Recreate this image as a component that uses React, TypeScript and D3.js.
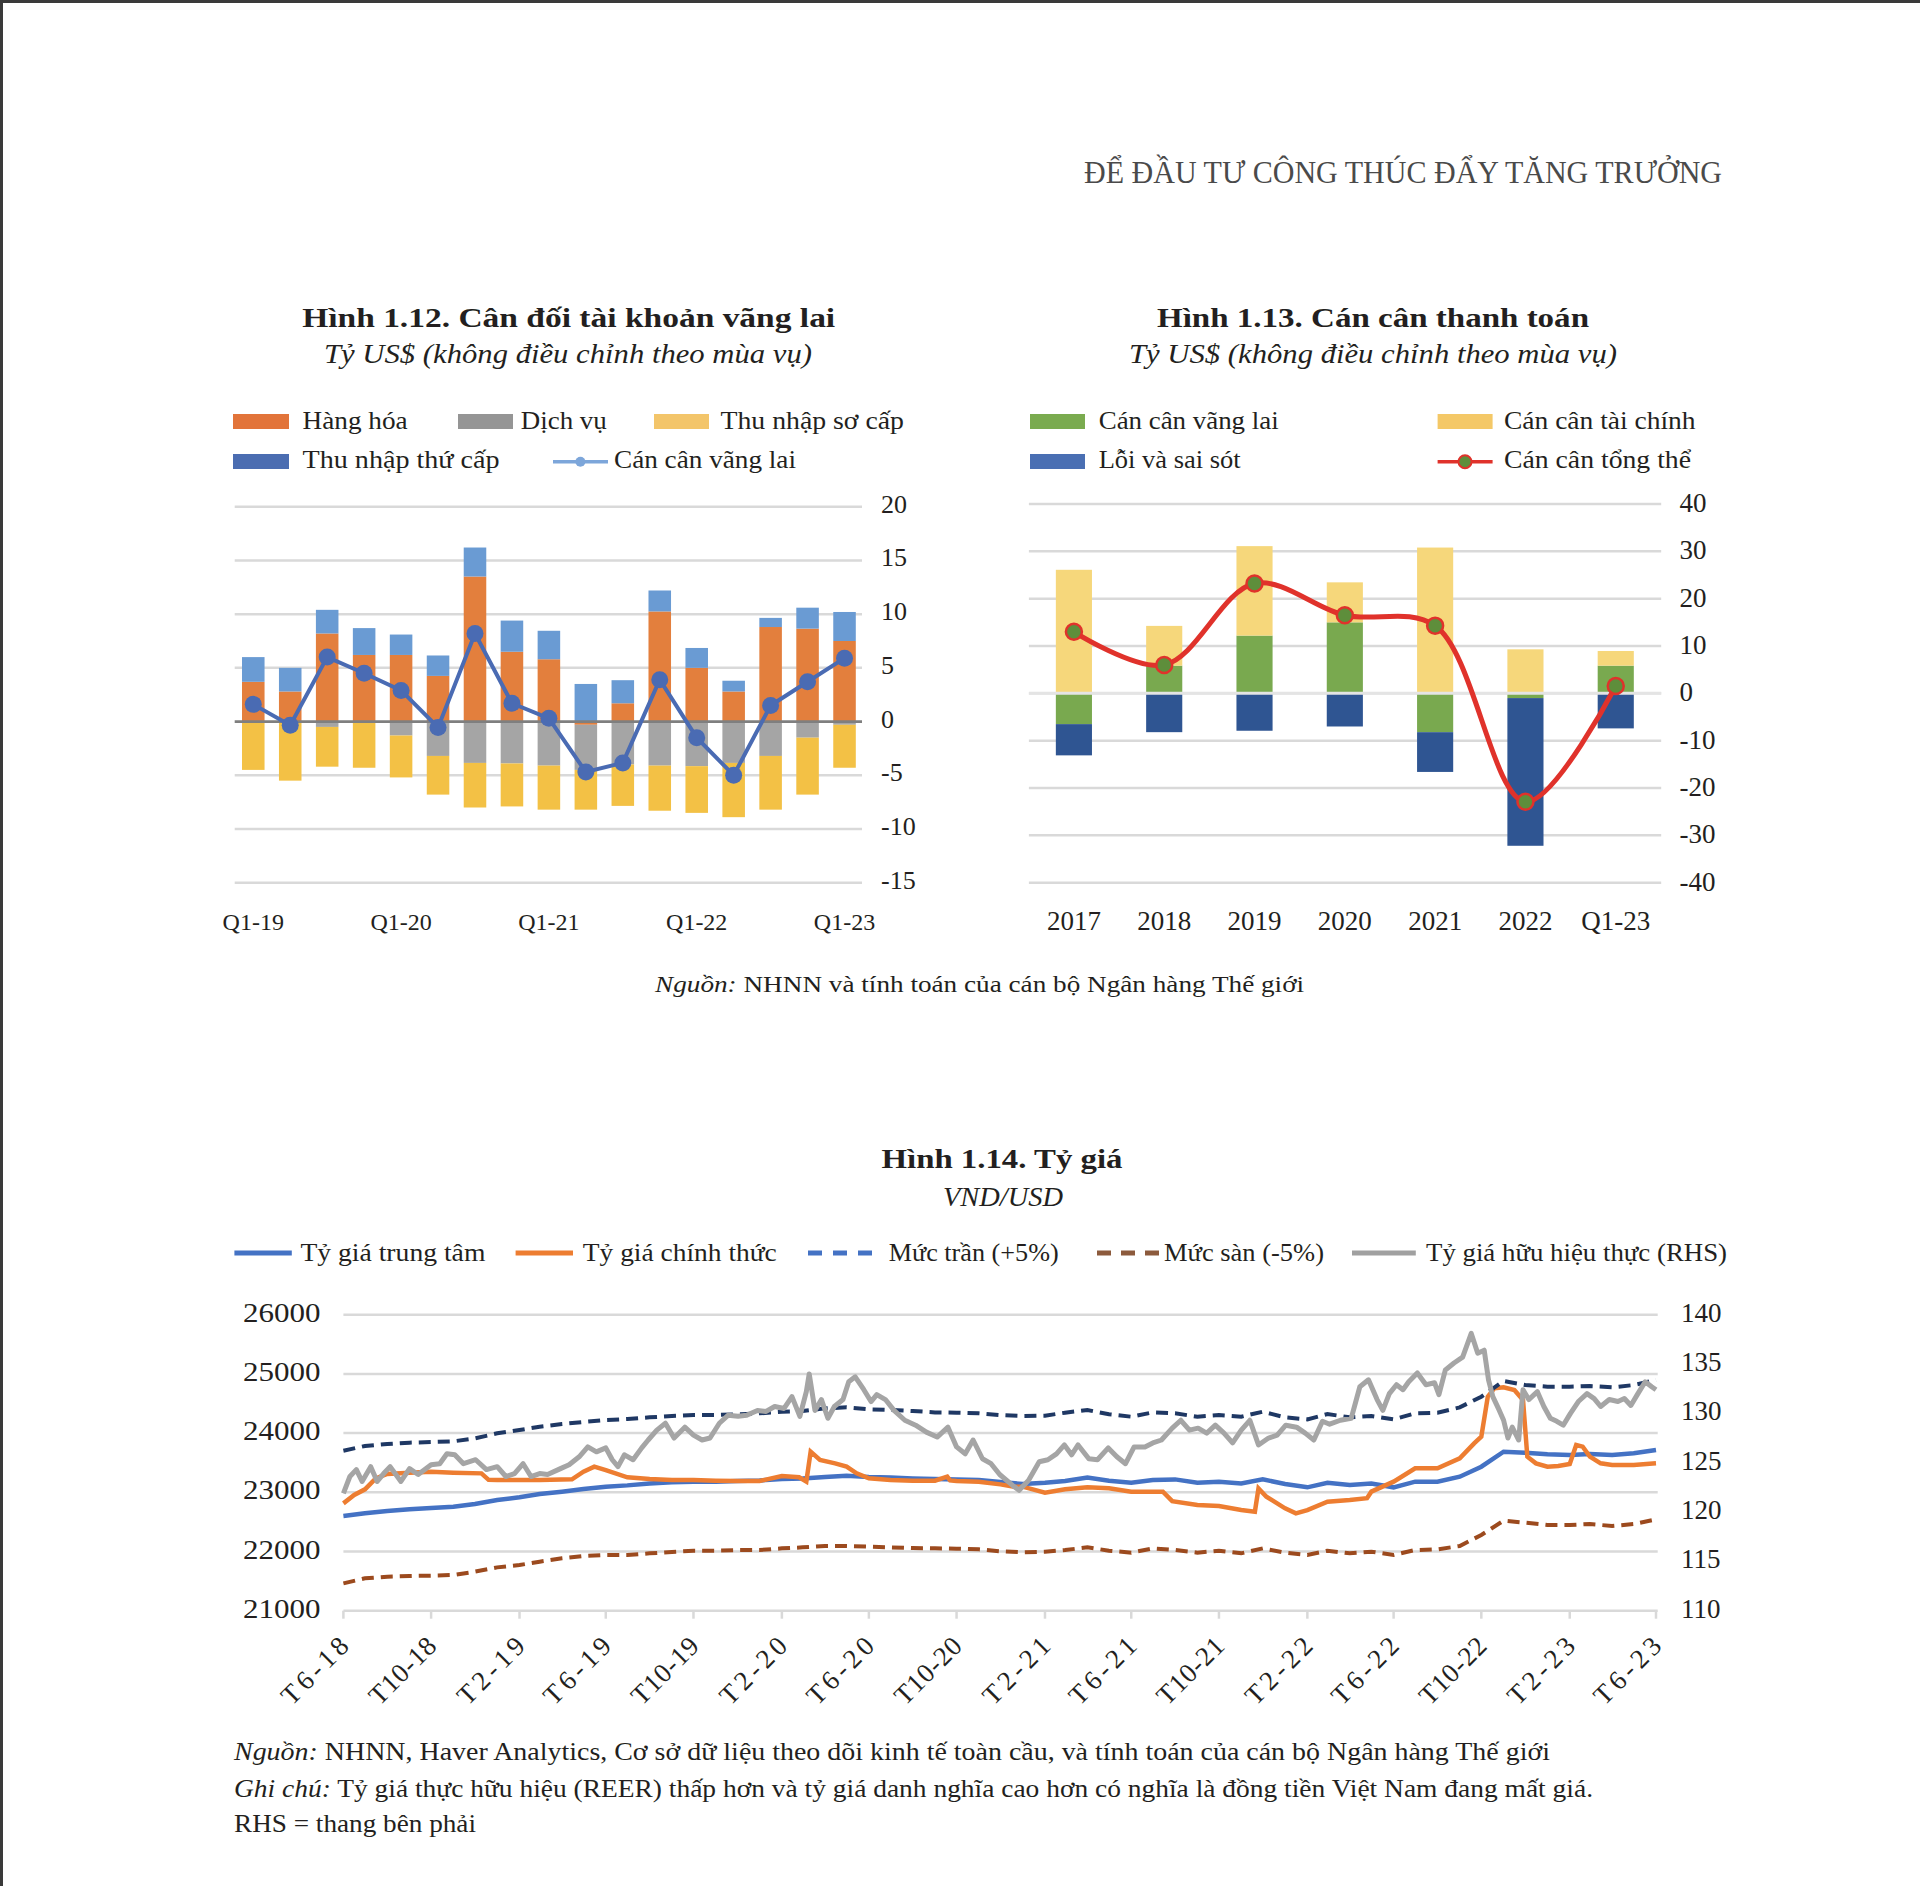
import React from "react";
import * as d3 from "d3";

const FONT = "'Liberation Serif', 'Times New Roman', serif";
const INK = "#231f20";

// ---------- Chart 1.12 data ----------
const cat1 = ["Q1-19","Q2-19","Q3-19","Q4-19","Q1-20","Q2-20","Q3-20","Q4-20","Q1-21","Q2-21","Q3-21","Q4-21","Q1-22","Q2-22","Q3-22","Q4-22","Q1-23"];
const goods =     [3.7, 2.8, 8.2, 6.2, 6.2, 4.25, 13.5, 6.5, 5.8, -0.3, 1.7, 10.25, 5.0, 2.8, 8.8, 8.65, 7.5];
const services =  [-0.1, -0.1, -0.5, -0.1, -1.3, -3.2, -3.85, -3.9, -4.1, -4.2, -4.0, -4.1, -4.15, -3.85, -3.2, -1.5, -0.3];
const primary =   [-4.4, -5.4, -3.7, -4.2, -3.9, -3.6, -4.15, -4.0, -4.1, -3.7, -3.85, -4.2, -4.35, -5.05, -5.0, -5.3, -4.0];
const secondary = [2.3, 2.2, 2.2, 2.5, 1.9, 1.9, 2.7, 2.9, 2.65, 3.5, 2.15, 1.95, 1.85, 1.0, 0.85, 1.95, 2.7];
const caLine =    [1.6, -0.35, 6.0, 4.5, 2.9, -0.55, 8.2, 1.7, 0.3, -4.7, -3.85, 3.9, -1.5, -5.0, 1.5, 3.7, 5.9];
const ticks1 = [-15, -10, -5, 0, 5, 10, 15, 20];
const xLabels1 = ["Q1-19","Q1-20","Q1-21","Q1-22","Q1-23"];

// ---------- Chart 1.13 data ----------
const cat2 = ["2017","2018","2019","2020","2021","2022","Q1-23"];
const ca2 =      [-6.5, 5.85, 12.2, 15.0, -8.2, -1.0, 5.85];
const fa2 =      [26.1, 8.4, 18.9, 8.45, 30.8, 9.3, 3.1];
const eo2 =      [-6.6, -8.2, -7.9, -7.0, -8.4, -31.2, -7.4];
const overall2 = [13.0, 6.0, 23.2, 16.5, 14.3, -22.9, 1.55];
const ticks2 = [-40, -30, -20, -10, 0, 10, 20, 30, 40];

// ---------- Chart 1.14 data ----------
const centralRate = [22600,22645,22684,22712,22735,22757,22802,22870,22915,22970,23010,23055,23095,23117,23150,23168,23180,23180,23190,23200,23224,23235,23260,23280,23260,23250,23235,23224,23218,23207,
  23175,23140,23162,23190,23250,23196,23162,23207,23218,23162,23180,23150,23218,23140,23084,23162,23123,23150,23084,23180,23180,23264,23433,23686,23669,23641,23630,23647,23630,23658,23714];
const ceilingRate = [23703,23782,23816,23838,23849,23861,23911,23996,24052,24108,24153,24187,24221,24238,24266,24289,24305,24305,24317,24334,24362,24373,24418,24435,24401,24390,24373,24350,24345,24334,
  24305,24289,24294,24345,24390,24317,24277,24350,24334,24277,24305,24277,24362,24266,24232,24322,24266,24289,24232,24334,24345,24435,24615,24880,24812,24784,24784,24795,24773,24812,24897];
const floorRate = [21462,21547,21575,21586,21592,21603,21659,21732,21772,21828,21885,21924,21941,21941,21969,21991,22014,22014,22025,22025,22053,22070,22093,22093,22082,22070,22059,22053,22048,22036,
  22003,21986,21997,22025,22070,22014,21980,22053,22025,21980,22014,21969,22053,21980,21941,22014,21969,21997,21941,22025,22036,22093,22279,22521,22487,22448,22448,22464,22431,22464,22543];
const officialRate: [string, number][] = [
  ["2018-06-01",22813],["2018-06-16",22954],["2018-07-01",23050],["2018-07-16",23236],["2018-08-01",23309],["2018-09-01",23331],["2018-10-01",23348],["2018-11-01",23331],["2018-12-10",23320],["2018-12-20",23210],
  ["2019-01-01",23207],["2019-02-01",23207],["2019-03-01",23207],["2019-04-15",23220],["2019-05-01",23348],["2019-05-16",23433],["2019-06-01",23376],["2019-07-01",23253],["2019-08-01",23224],["2019-09-01",23207],
  ["2019-10-01",23207],["2019-11-01",23196],["2019-12-01",23190],["2020-01-01",23190],["2020-02-01",23275],["2020-02-25",23253],["2020-03-06",23180],["2020-03-12",23686],["2020-03-25",23545],["2020-04-15",23489],
  ["2020-05-01",23433],["2020-05-15",23320],["2020-06-01",23236],["2020-07-01",23207],["2020-08-01",23196],["2020-09-01",23196],["2020-09-18",23264],["2020-09-22",23200],["2020-10-01",23190],["2020-11-01",23180],
  ["2020-12-01",23134],["2020-12-20",23095],["2021-01-01",23095],["2021-01-15",23050],["2021-02-01",22994],["2021-03-01",23050],["2021-04-01",23084],["2021-05-01",23067],["2021-06-01",23011],["2021-07-15",23011],
  ["2021-07-28",22850],["2021-09-01",22785],["2021-10-01",22768],["2021-11-01",22700],["2021-11-20",22673],["2021-11-25",23067],["2021-12-06",22926],["2022-01-01",22729],["2022-01-16",22645],["2022-02-01",22700],
  ["2022-03-01",22842],["2022-04-01",22870],["2022-04-25",22900],["2022-05-01",23011],["2022-06-01",23180],["2022-07-01",23405],["2022-08-01",23405],["2022-09-01",23574],["2022-09-21",23827],["2022-10-01",23939],
  ["2022-10-10",24615],["2022-10-19",24756],["2022-11-01",24773],["2022-11-16",24728],["2022-11-28",24559],["2022-12-04",23602],["2022-12-16",23489],["2023-01-01",23433],["2023-01-16",23444],["2023-02-01",23478],
  ["2023-02-10",23799],["2023-02-19",23771],["2023-03-01",23602],["2023-03-16",23489],["2023-04-01",23461],["2023-05-01",23461],["2023-06-01",23489]
];
const reer: [string, number][] = [
  ["2018-06-01",121.9],["2018-06-10",123.6],["2018-06-19",124.3],["2018-06-27",123.1],["2018-07-09",124.6],["2018-07-18",123.1],["2018-07-27",123.9],["2018-08-05",124.6],["2018-08-20",123.1],["2018-09-01",124.4],
  ["2018-09-13",123.8],["2018-10-01",124.8],["2018-10-13",124.9],["2018-10-23",125.9],["2018-11-03",125.8],["2018-11-15",124.9],["2018-12-02",125.3],["2018-12-17",124.3],["2019-01-01",124.6],["2019-01-13",123.6],
  ["2019-01-25",123.9],["2019-02-06",124.9],["2019-02-17",123.6],["2019-03-01",123.9],["2019-03-12",123.8],["2019-03-30",124.4],["2019-04-11",124.8],["2019-04-25",125.6],["2019-05-07",126.6],["2019-05-19",126.1],
  ["2019-06-01",126.5],["2019-06-10",125.3],["2019-06-18",124.6],["2019-06-27",125.8],["2019-07-09",125.3],["2019-07-21",126.5],["2019-07-30",127.3],["2019-08-11",128.3],["2019-08-23",129.0],["2019-09-04",127.5],
  ["2019-09-19",128.6],["2019-10-01",127.8],["2019-10-13",127.3],["2019-10-24",127.5],["2019-11-06",129.0],["2019-11-18",129.8],["2019-12-02",129.7],["2019-12-14",129.8],["2019-12-29",130.3],["2020-01-10",130.2],
  ["2020-01-22",130.7],["2020-02-04",130.5],["2020-02-15",131.7],["2020-02-26",129.7],["2020-03-06",132.2],["2020-03-10",134.0],["2020-03-18",130.3],["2020-03-27",131.4],["2020-04-05",129.5],["2020-04-14",130.7],
  ["2020-04-26",131.4],["2020-05-04",133.2],["2020-05-13",133.7],["2020-05-25",132.4],["2020-06-04",131.2],["2020-06-12",131.9],["2020-06-24",131.4],["2020-07-06",130.3],["2020-07-21",129.3],["2020-08-05",128.8],
  ["2020-08-20",128.1],["2020-09-04",127.6],["2020-09-19",128.6],["2020-10-01",126.6],["2020-10-13",125.9],["2020-10-24",127.3],["2020-11-06",125.4],["2020-11-18",124.9],["2020-11-30",123.8],["2020-12-18",122.7],
  ["2020-12-27",122.2],["2021-01-09",123.2],["2021-01-24",125.1],["2021-02-05",125.3],["2021-02-17",125.9],["2021-02-28",126.8],["2021-03-10",125.8],["2021-03-19",126.8],["2021-04-03",125.4],["2021-04-15",125.3],
  ["2021-04-30",126.5],["2021-05-12",125.6],["2021-05-24",124.9],["2021-06-05",126.6],["2021-06-20",126.6],["2021-07-01",127.0],["2021-07-13",127.3],["2021-07-28",128.5],["2021-08-09",129.3],["2021-08-21",128.3],
  ["2021-09-02",128.5],["2021-09-14",128.0],["2021-09-26",128.8],["2021-10-08",128.0],["2021-10-20",127.0],["2021-11-01",128.3],["2021-11-13",129.3],["2021-11-25",126.8],["2021-12-09",127.5],["2021-12-21",127.8],
  ["2022-01-02",128.8],["2022-01-17",128.6],["2022-01-29",128.0],["2022-02-10",127.3],["2022-02-22",129.2],["2022-03-04",128.9],["2022-03-19",129.3],["2022-04-03",129.5],["2022-04-15",132.7],["2022-04-27",133.4],
  ["2022-05-09",131.4],["2022-05-17",130.3],["2022-05-26",132.0],["2022-06-05",132.9],["2022-06-14",132.4],["2022-06-22",133.2],["2022-07-04",134.1],["2022-07-16",132.9],["2022-07-28",133.1],["2022-08-03",131.9],
  ["2022-08-12",134.4],["2022-08-24",135.1],["2022-09-05",135.7],["2022-09-17",138.1],["2022-09-26",136.1],["2022-10-05",136.4],["2022-10-11",133.4],["2022-10-17",131.7],["2022-10-26",130.3],["2022-11-01",129.3],
  ["2022-11-07",127.5],["2022-11-13",128.6],["2022-11-22",127.3],["2022-11-28",132.4],["2022-12-06",131.4],["2022-12-18",132.2],["2022-12-27",130.7],["2023-01-05",129.5],["2023-01-14",129.2],["2023-01-23",128.8],
  ["2023-02-02",130.0],["2023-02-13",131.2],["2023-02-25",132.0],["2023-03-07",131.5],["2023-03-16",130.7],["2023-03-28",131.4],["2023-04-09",131.2],["2023-04-18",131.5],["2023-04-27",130.8],["2023-05-06",131.9],
  ["2023-05-17",133.2],["2023-05-26",132.7],["2023-06-01",132.4]
];
const ticks3L = [21000, 22000, 23000, 24000, 25000, 26000];
const ticks3R = [110, 115, 120, 125, 130, 135, 140];

const parse = d3.timeParse("%Y-%m-%d");

function T(props: any) {
  const { x, y, size = 25, anchor = "start", weight = "normal", italic = false, fill = INK, len, adjust = "spacingAndGlyphs", children, ...rest } = props;
  return (
    <text x={x} y={y} fontSize={size} textAnchor={anchor} fontWeight={weight} fontStyle={italic ? "italic" : "normal"}
      fill={fill} fontFamily={FONT} textLength={len} lengthAdjust={len ? adjust : undefined} {...rest}>{children}</text>
  );
}

function Chart1() {
  const x = d3.scaleBand<string>().domain(cat1).range([234.8, 863]).paddingInner(0.39).paddingOuter(0.195);
  const y = d3.scaleLinear().domain([-15, 20]).range([882.7, 506.7]);
  const rows = cat1.map((c, i) => ({ c, goods: goods[i], services: services[i], primary: primary[i], secondary: secondary[i] }));
  const keys = ["goods", "services", "primary", "secondary"];
  const colors: Record<string, string> = { goods: "#E37F3D", services: "#A5A5A5", primary: "#F3C145", secondary: "#6A9BD3" };
  const stacked = d3.stack<any>().keys(keys).offset(d3.stackOffsetDiverging)(rows);
  const cx = (c: string) => (x(c) as number) + x.bandwidth() / 2;
  const line = d3.line<number>().x((_, i) => cx(cat1[i])).y(v => y(v));
  return (
    <g>
      {ticks1.filter(t => t !== 0).map(t => (
        <line key={t} x1={234.7} x2={862} y1={y(t)} y2={y(t)} stroke="#D9D9D9" strokeWidth={2.5} />
      ))}
      {stacked.map(s => (
        <g key={s.key} fill={colors[s.key]}>
          {s.map((d, i) => (
            <rect key={i} x={x(cat1[i])} width={x.bandwidth()} y={y(Math.max(d[0], d[1]))} height={Math.abs(y(d[0]) - y(d[1]))} />
          ))}
        </g>
      ))}
      <line x1={234.7} x2={862} y1={y(0)} y2={y(0)} stroke="#7F7F7F" strokeWidth={2.8} />
      <path d={line(caLine) || ""} fill="none" stroke="#4A6BB3" strokeWidth={4} />
      {caLine.map((v, i) => <circle key={i} cx={cx(cat1[i])} cy={y(v)} r={8.5} fill="#4A6BB3" />)}
      {ticks1.map(t => <T key={t} x={881} y={y(t) + 6} size={26}>{t}</T>)}
      {xLabels1.map(c => <T key={c} x={cx(c)} y={930} anchor="middle" size={24}>{c}</T>)}
      {/* legend */}
      <rect x={233} y={414} width={56} height={15} fill="#E2743A" />
      <T x={302.6} y={428.5} len={105}>Hàng hóa</T>
      <rect x={458} y={414} width={55} height={15} fill="#959595" />
      <T x={520.8} y={428.5} len={86}>Dịch vụ</T>
      <rect x={654} y={414} width={55} height={15} fill="#F3C56A" />
      <T x={720.5} y={428.5} len={183.5}>Thu nhập sơ cấp</T>
      <rect x={233} y={454} width={56} height={15} fill="#4B6DB1" />
      <T x={302.6} y={468} len={197}>Thu nhập thứ cấp</T>
      <line x1={553} x2={608} y1={461.7} y2={461.7} stroke="#7DA6DA" strokeWidth={3.5} />
      <circle cx={580.4} cy={461.7} r={5} fill="#7DA6DA" />
      <T x={614} y={468} len={182}>Cán cân vãng lai</T>
    </g>
  );
}

function Chart2() {
  const x = d3.scaleBand<string>().domain(cat2).range([1028.75, 1660.9]).paddingInner(0.6).paddingOuter(0.3);
  const y = d3.scaleLinear().domain([-40, 40]).range([882.7, 504]);
  const rows = cat2.map((c, i) => ({ c, ca: ca2[i], fa: fa2[i], eo: eo2[i] }));
  const keys = ["ca", "fa", "eo"];
  const colors: Record<string, string> = { ca: "#79A94F", fa: "#F6D77B", eo: "#2F5592" };
  const stacked = d3.stack<any>().keys(keys).offset(d3.stackOffsetDiverging)(rows);
  const cx = (c: string) => (x(c) as number) + x.bandwidth() / 2;
  const line = d3.line<number>().x((_, i) => cx(cat2[i])).y(v => y(v)).curve(d3.curveCatmullRom.alpha(0.5));
  return (
    <g>
      {ticks2.map(t => (
        <line key={t} x1={1028.9} x2={1661.2} y1={y(t)} y2={y(t)} stroke="#D9D9D9" strokeWidth={2.5} />
      ))}
      {stacked.map(s => (
        <g key={s.key} fill={colors[s.key]}>
          {s.map((d, i) => (
            <rect key={i} x={x(cat2[i])} width={x.bandwidth()} y={y(Math.max(d[0], d[1]))} height={Math.abs(y(d[0]) - y(d[1]))} />
          ))}
        </g>
      ))}
      <line x1={1028.9} x2={1661.2} y1={y(0)} y2={y(0)} stroke="#E4E4E4" strokeWidth={3} />
      <path d={line(overall2) || ""} fill="none" stroke="#E0322B" strokeWidth={5} />
      {overall2.map((v, i) => <circle key={i} cx={cx(cat2[i])} cy={y(v)} r={8} fill="#5E8E3B" stroke="#E0322B" strokeWidth={2.5} />)}
      {ticks2.map(t => <T key={t} x={1679.5} y={y(t) + 8} size={27}>{t}</T>)}
      {cat2.map(c => <T key={c} x={cx(c)} y={930} anchor="middle" size={27}>{c}</T>)}
      {/* legend */}
      <rect x={1030} y={414} width={55} height={15} fill="#7AAB4F" />
      <T x={1098.7} y={428.5} len={180}>Cán cân vãng lai</T>
      <rect x={1437.6} y={414} width={55} height={15} fill="#F4C867" />
      <T x={1504} y={428.5} len={191.6}>Cán cân tài chính</T>
      <rect x={1030} y={454} width={55} height={15} fill="#4A6FB3" />
      <T x={1098.7} y={468} len={142}>Lỗi và sai sót</T>
      <line x1={1437.6} x2={1492.6} y1={461.7} y2={461.7} stroke="#E0322B" strokeWidth={3.5} />
      <circle cx={1465} cy={461.7} r={6.5} fill="#5E8E3B" stroke="#E0322B" strokeWidth={2} />
      <T x={1504} y={468} len={187}>Cán cân tổng thể</T>
    </g>
  );
}

function Chart3() {
  const start = parse("2018-06-01") as Date;
  const end = parse("2023-06-01") as Date;
  const x = d3.scaleTime().domain([start, end]).range([343.4, 1656]);
  const yL = d3.scaleLinear().domain([21000, 26000]).range([1610.7, 1314.7]);
  const yR = d3.scaleLinear().domain([110, 140]).range([1610.7, 1314.7]);
  const months = d3.timeMonth.range(start, d3.timeMonth.offset(end, 1));
  const monthly = (arr: number[]) => arr.map((v, i) => [months[i], v] as [Date, number]);
  const lineL = d3.line<[Date, number]>().x(d => x(d[0])).y(d => yL(d[1]));
  const lineR = d3.line<[Date, number]>().x(d => x(d[0])).y(d => yR(d[1]));
  const pairs = (arr: [string, number][]) => arr.map(d => [parse(d[0]) as Date, d[1]] as [Date, number]);
  const tickDates = d3.timeMonth.range(start, d3.timeMonth.offset(end, 1), 4);
  const fmt = (d: Date) => `T${d.getMonth() + 1}-${d3.timeFormat("%y")(d)}`;
  const axisY = yL(21000);
  return (
    <g>
      {ticks3L.map(t => (
        <line key={t} x1={343.4} x2={1657.7} y1={yL(t)} y2={yL(t)} stroke="#D9D9D9" strokeWidth={2.5} />
      ))}
      {tickDates.map((d, i) => (
        <line key={i} x1={x(d)} x2={x(d)} y1={axisY} y2={axisY + 8} stroke="#D9D9D9" strokeWidth={2.5} />
      ))}
      <path d={lineL(monthly(centralRate)) || ""} fill="none" stroke="#4472C4" strokeWidth={4.5} />
      <path d={lineL(pairs(officialRate)) || ""} fill="none" stroke="#ED7D31" strokeWidth={4.5} />
      <path d={lineL(monthly(ceilingRate)) || ""} fill="none" stroke="#1F3864" strokeWidth={4} strokeDasharray="12 7" />
      <path d={lineL(monthly(floorRate)) || ""} fill="none" stroke="#9C4A1E" strokeWidth={4} strokeDasharray="12 7" />
      <path d={lineR(pairs(reer)) || ""} fill="none" stroke="#A5A5A5" strokeWidth={5} strokeLinejoin="round" />
      {ticks3L.map(t => <T key={t} x={320.5} y={yL(t) + 7} anchor="end" size={27} len={77.5}>{t}</T>)}
      {ticks3R.map(t => <T key={t} x={1681} y={yR(t) + 7} size={27}>{t}</T>)}
      {tickDates.map((d, i) => (
        <T key={i} size={27} anchor="end" len={83} adjust="spacing"
          transform={`translate(${x(d) + 7},${axisY + 37}) rotate(-45)`} x={0} y={0}>{fmt(d)}</T>
      ))}
      {/* legend */}
      <line x1={234.4} x2={291.8} y1={1253} y2={1253} stroke="#4472C4" strokeWidth={5} />
      <T x={300.4} y={1261} len={185}>Tỷ giá trung tâm</T>
      <line x1={515.6} x2={573} y1={1253} y2={1253} stroke="#ED7D31" strokeWidth={5} />
      <T x={582.8} y={1261} len={194}>Tỷ giá chính thức</T>
      <line x1={808} x2={874.4} y1={1253} y2={1253} stroke="#4472C4" strokeWidth={5} strokeDasharray="14 11" />
      <T x={888.7} y={1261} len={170}>Mức trần (+5%)</T>
      <line x1={1097} x2={1160.7} y1={1253} y2={1253} stroke="#8C5A3C" strokeWidth={5} strokeDasharray="14 10" />
      <T x={1164} y={1261} len={160}>Mức sàn (-5%)</T>
      <line x1={1352} x2={1415.8} y1={1253} y2={1253} stroke="#A0A0A0" strokeWidth={5} />
      <T x={1426} y={1261} len={301}>Tỷ giá hữu hiệu thực (RHS)</T>
    </g>
  );
}

export default function App() {
  return (
    <svg width={1920} height={1886} viewBox="0 0 1920 1886" style={{ position: "absolute", left: 0, top: 0 }} fontFamily={FONT}>
      <rect x={0} y={0} width={1920} height={1886} fill="#ffffff" />
      <line x1={0} x2={1920} y1={1.5} y2={1.5} stroke="#3a3a3a" strokeWidth={3} />
      <line x1={1.5} x2={1.5} y1={0} y2={1886} stroke="#3a3a3a" strokeWidth={3} />

      <T x={1084} y={182.5} size={32} fill="#4a4a4a" len={638}>ĐỂ ĐẦU TƯ CÔNG THÚC ĐẨY TĂNG TRƯỞNG</T>

      <T x={568.7} y={327} anchor="middle" size={27} weight="bold" len={533}>Hình 1.12. Cân đối tài khoản vãng lai</T>
      <T x={568} y={362.5} anchor="middle" size={27} italic len={488}>Tỷ US$ (không điều chỉnh theo mùa vụ)</T>
      <T x={1373} y={327} anchor="middle" size={27} weight="bold" len={432}>Hình 1.13. Cán cân thanh toán</T>
      <T x={1373} y={362.5} anchor="middle" size={27} italic len={488}>Tỷ US$ (không điều chỉnh theo mùa vụ)</T>

      <Chart1 />
      <Chart2 />

      <text x={979.6} y={992} textAnchor="middle" fontSize={24} fill={INK} fontFamily={FONT} textLength={649} lengthAdjust="spacingAndGlyphs">
        <tspan fontStyle="italic">Nguồn:</tspan> NHNN và tính toán của cán bộ Ngân hàng Thế giới
      </text>

      <T x={1002} y={1168} anchor="middle" size={27} weight="bold" len={241}>Hình 1.14. Tỷ giá</T>
      <T x={1003} y={1206} anchor="middle" size={27} italic len={120}>VND/USD</T>

      <Chart3 />

      <text x={234} y={1760} fontSize={25} fill={INK} fontFamily={FONT} textLength={1316} lengthAdjust="spacingAndGlyphs">
        <tspan fontStyle="italic">Nguồn:</tspan> NHNN, Haver Analytics, Cơ sở dữ liệu theo dõi kinh tế toàn cầu, và tính toán của cán bộ Ngân hàng Thế giới
      </text>
      <text x={234} y={1797} fontSize={25} fill={INK} fontFamily={FONT} textLength={1359} lengthAdjust="spacingAndGlyphs">
        <tspan fontStyle="italic">Ghi chú:</tspan> Tỷ giá thực hữu hiệu (REER) thấp hơn và tỷ giá danh nghĩa cao hơn có nghĩa là đồng tiền Việt Nam đang mất giá.
      </text>
      <T x={234} y={1832} size={25} len={242}>RHS = thang bên phải</T>
    </svg>
  );
}
